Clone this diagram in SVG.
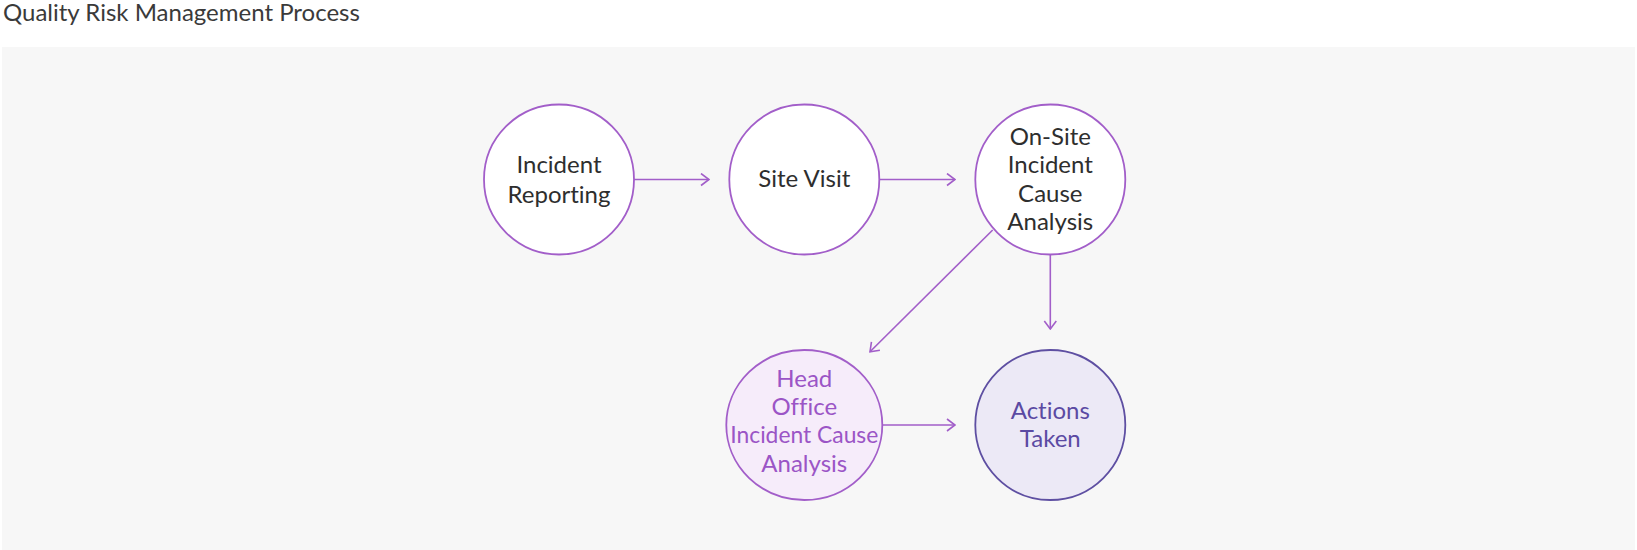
<svg xmlns="http://www.w3.org/2000/svg" width="1637" height="550" viewBox="0 0 1637 550">
<defs>
<style>
.bg{fill:#f7f7f7}
.title{font-family:Lato,"Liberation Sans",sans-serif;font-size:24px;fill:#3a3a3a;font-variant-ligatures:none}
.node{fill:#fff;stroke:#a25ec9;stroke-width:1.8}
.lbl{font-family:Lato,"Liberation Sans",sans-serif;font-size:24px;fill:#2e2e2e;text-anchor:middle;font-variant-ligatures:none}
.ho{fill:#f6ecfa;stroke:#a25ec9;stroke-width:1.8}
.hol{fill:#9b55c6}
.act{fill:#ece9f6;stroke:#5e4fa2;stroke-width:1.8}
.actl{fill:#5b4aa3}
.edge{fill:none;stroke:#a25ec9;stroke-width:1.6}
</style>
<marker id="arr" viewBox="0 0 10 14" refX="9" refY="7" markerWidth="10" markerHeight="14" markerUnits="userSpaceOnUse" orient="auto">
<path d="M1,1 L9,7 L1,13" fill="none" stroke="#a25ec9" stroke-width="1.6"/>
</marker>
</defs>
<rect class="bg" x="2" y="47" width="1633" height="503"/>
<text class="title" x="3" y="21">Quality Risk Management Process</text>
<g id="connectors">
<line class="edge" x1="634" y1="179.5" x2="709" y2="179.5" marker-end="url(#arr)"/>
<line class="edge" x1="879" y1="179.5" x2="955" y2="179.5" marker-end="url(#arr)"/>
<line class="edge" x1="1050.3" y1="254.5" x2="1050.3" y2="329" marker-end="url(#arr)"/>
<line class="edge" x1="992.7" y1="230" x2="870" y2="351.7" marker-end="url(#arr)"/>
<line class="edge" x1="882.7" y1="425" x2="955" y2="425" marker-end="url(#arr)"/>
</g>
<g id="incident-reporting">
<circle class="node" cx="559" cy="179.5" r="75"/>
<text class="lbl" x="559" y="173.3">Incident</text>
<text class="lbl" x="559" y="202.5">Reporting</text>
</g>
<g id="site-visit">
<circle class="node" cx="804.3" cy="179.5" r="75"/>
<text class="lbl" x="804.3" y="187.3">Site Visit</text>
</g>
<g id="onsite-analysis">
<circle class="node" cx="1050.3" cy="179.5" r="75"/>
<text class="lbl" x="1050.3" y="145">On-Site</text>
<text class="lbl" x="1050.3" y="173.3">Incident</text>
<text class="lbl" x="1050.3" y="201.7">Cause</text>
<text class="lbl" x="1050.3" y="230">Analysis</text>
</g>
<g id="head-office-analysis">
<ellipse class="ho" cx="804.3" cy="425" rx="78" ry="75"/>
<text class="lbl hol" x="804.3" y="386.7">Head</text>
<text class="lbl hol" x="804.3" y="415">Office</text>
<text class="lbl hol" x="804.3" y="443.3" textLength="148" lengthAdjust="spacingAndGlyphs">Incident Cause</text>
<text class="lbl hol" x="804.3" y="471.7">Analysis</text>
</g>
<g id="actions-taken">
<circle class="act" cx="1050.3" cy="425" r="75"/>
<text class="lbl actl" x="1050.3" y="419.3">Actions</text>
<text class="lbl actl" x="1050.3" y="447.3">Taken</text>
</g>
</svg>
